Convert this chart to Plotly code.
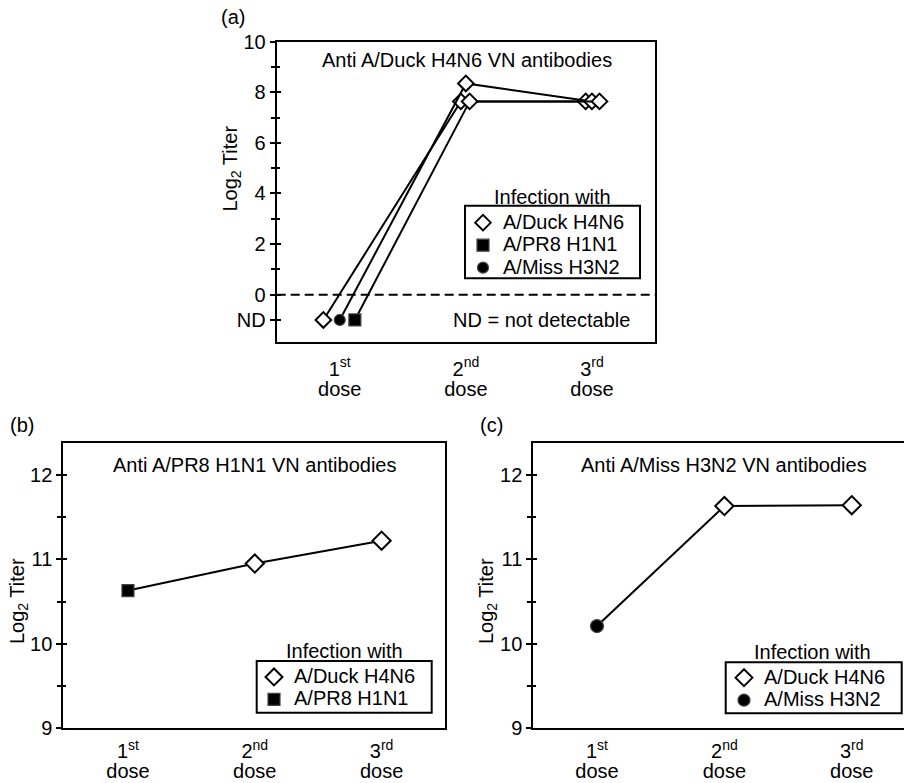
import plotly.graph_objects as go

# ---------------- data ----------------
doses = [1, 2, 3]
dose_ord = ["1<sup>st</sup>", "2<sup>nd</sup>", "3<sup>rd</sup>"]
dose_word = ["dose", "dose", "dose"]

# Panel (a): anti A/Duck H4N6 VN antibodies (ND plotted at -1)
a_duck = [-1, 7.64, 7.64]
a_miss = [-1, 8.35, 7.64]
a_pr8 = [-1, 7.64, 7.64]
a_tickvals = [-1, 0, 2, 4, 6, 8, 10]
a_ticktext = ["ND", "0", "2", "4", "6", "8", "10"]
a_minor = [1, 3, 5, 7, 9]

# Panel (b): anti A/PR8 H1N1 VN antibodies
b_values = [10.63, 10.95, 11.22]
# Panel (c): anti A/Miss H3N2 VN antibodies
c_values = [10.21, 11.63, 11.64]
bc_tickvals = [9, 10, 11, 12]
bc_minor = [9.5, 10.5, 11.5]

# horizontal jitter used in panel (a) so overlapping points stay visible
jit_duck = [-0.13, -0.04, -0.05]
jit_miss = [0.0, 0.0, 0.0]
jit_pr8 = [0.12, 0.03, 0.06]

# ---------------- style ----------------
W, H = 904, 783
FONT = "Liberation Sans, Arial, sans-serif"
FS = 20
DARK = "#000000"
EDGE = "#444444"


def px(x):
    return x / W


def py(y):
    return 1 - y / H


def sty(name):
    return '<span style="font-size:20px">' + name + "</span>"


symbols = {"duck": "diamond", "pr8": "square", "miss": "circle"}
fills = {"duck": "white", "pr8": DARK, "miss": DARK}
edges = {"duck": "black", "pr8": EDGE, "miss": EDGE}
ewidth = {"duck": 2, "pr8": 1.2, "miss": 1.2}
names = {"duck": "A/Duck H4N6", "pr8": "A/PR8 H1N1", "miss": "A/Miss H3N2"}

fig = go.Figure()


def series(first, yvals, jit, xa, ya, dsize, fsize):
    xs = [d + j for d, j in zip(doses, jit)]
    fig.add_trace(go.Scatter(
        x=xs, y=yvals, mode="lines+markers", xaxis=xa, yaxis=ya, showlegend=False,
        line=dict(color="black", width=2),
        marker=dict(symbol=[symbols[first], "diamond", "diamond"],
                    size=[fsize if first != "duck" else dsize, dsize, dsize],
                    color=[fills[first], "white", "white"], opacity=1,
                    line=dict(color=[edges[first], "black", "black"],
                              width=[ewidth[first], 2, 2])),
        hoverinfo="x+y"))


def legend_entry(key, xa, ya, leg, size):
    fig.add_trace(go.Scatter(
        x=[None], y=[None], mode="markers", xaxis=xa, yaxis=ya, legend=leg,
        name=sty(names[key]), showlegend=True,
        marker=dict(symbol=symbols[key], size=size, color=fills[key],
                    line=dict(color=edges[key], width=ewidth[key]))))


# panel (a)
series("duck", a_duck, jit_duck, "x", "y", 12, 12)
series("miss", a_miss, jit_miss, "x", "y", 12, 11)
series("pr8", a_pr8, jit_pr8, "x", "y", 12, 12)
legend_entry("duck", "x", "y", "legend", 12)
legend_entry("pr8", "x", "y", "legend", 12)
legend_entry("miss", "x", "y", "legend", 11)

# panel (b)
series("pr8", b_values, [0, 0, 0], "x2", "y2", 14, 12)
legend_entry("duck", "x2", "y2", "legend2", 13)
legend_entry("pr8", "x2", "y2", "legend2", 12)

# panel (c)
series("miss", c_values, [0, 0, 0], "x3", "y3", 14, 13)
legend_entry("duck", "x3", "y3", "legend3", 13)
legend_entry("miss", "x3", "y3", "legend3", 12)

# empty traces so the overlay axes (inner ticks, "dose" line) exist
for xa, ya in [("x", "y4"), ("x2", "y5"), ("x3", "y6"), ("x4", "y"), ("x5", "y2"), ("x6", "y3")]:
    fig.add_trace(go.Scatter(x=[None], y=[None], xaxis=xa, yaxis=ya, showlegend=False,
                             hoverinfo="skip"))

# ---------------- axes ----------------
tfont = dict(size=FS, family=FONT, color="black")
xcommon = dict(tickvals=doses, ticktext=dose_ord, ticks="", showline=True, linecolor="black",
               linewidth=2, mirror=True, showgrid=False, zeroline=False, automargin=False,
               tickfont=tfont, fixedrange=True)
xword = dict(tickvals=doses, ticktext=dose_word, ticks="", showline=False, showgrid=False,
             zeroline=False, automargin=False, tickfont=tfont, fixedrange=True, side="bottom")
ycommon = dict(ticks="outside", ticklen=5, tickwidth=2, tickcolor="black", showline=True,
               linecolor="black", linewidth=2, showgrid=False, zeroline=False, automargin=False,
               tickfont=tfont, fixedrange=True)
yinner = dict(ticks="inside", ticklen=4, tickwidth=2, tickcolor="black", showline=False,
              showgrid=False, zeroline=False, automargin=False, showticklabels=False,
              fixedrange=True, side="left")

a_dom = [py(341.7), py(41.7)]
bc_dom = [py(728.3), py(442.7)]
a_rng = [-1.86, 10]
bc_rng = [9, 12.38]
a_xdom = [px(276.7), px(655)]
b_xdom = [px(63.3), px(445)]
c_xdom = [px(533.3), 1.0]
a_xr = [0.5, 3.5]
b_xr = [0.49, 3.5]
c_xr = [0.5, 3.41]


def minor(vals, side, ln):
    return dict(tickvals=vals, ticks=side, ticklen=ln, tickwidth=2, tickcolor="black")


fig.update_layout(
    xaxis=dict(**xcommon, domain=a_xdom, range=a_xr, anchor="y", ticklabelstandoff=8),
    xaxis4=dict(**xword, domain=a_xdom, range=a_xr, anchor="y", overlaying="x", ticklabelstandoff=33),
    yaxis=dict(**ycommon, domain=a_dom, range=a_rng, anchor="x", mirror=True,
               tickvals=a_tickvals, ticktext=a_ticktext, minor=minor(a_minor, "outside", 4)),
    yaxis4=dict(**yinner, domain=a_dom, range=a_rng, anchor="x", overlaying="y",
                tickvals=a_tickvals, minor=minor(a_minor, "inside", 3)),
    xaxis2=dict(**xcommon, domain=b_xdom, range=b_xr, anchor="y2", ticklabelstandoff=4),
    xaxis5=dict(**xword, domain=b_xdom, range=b_xr, anchor="y2", overlaying="x2", ticklabelstandoff=29),
    yaxis2=dict(**ycommon, domain=bc_dom, range=bc_rng, anchor="x2", mirror=True,
                tickvals=bc_tickvals, minor=minor(bc_minor, "outside", 4)),
    yaxis5=dict(**yinner, domain=bc_dom, range=bc_rng, anchor="x2", overlaying="y2",
                tickvals=bc_tickvals, minor=minor(bc_minor, "inside", 3)),
    xaxis3=dict(**xcommon, domain=c_xdom, range=c_xr, anchor="y3", ticklabelstandoff=4),
    xaxis6=dict(**xword, domain=c_xdom, range=c_xr, anchor="y3", overlaying="x3", ticklabelstandoff=29),
    yaxis3=dict(**ycommon, domain=bc_dom, range=bc_rng, anchor="x3", mirror=False,
                tickvals=bc_tickvals, minor=minor(bc_minor, "outside", 4)),
    yaxis6=dict(**yinner, domain=bc_dom, range=bc_rng, anchor="x3", overlaying="y3",
                tickvals=bc_tickvals, minor=minor(bc_minor, "inside", 3)),
)

legend_common = dict(bgcolor="rgba(0,0,0,0)", borderwidth=0,
                     font=dict(size=15, family=FONT, color="black"),
                     xanchor="left", yanchor="top", itemwidth=30, tracegroupgap=0,
                     traceorder="normal")
fig.update_layout(
    legend=dict(**legend_common, x=px(463), y=py(206.4)),
    legend2=dict(**legend_common, x=px(254), y=py(660.7)),
    legend3=dict(**legend_common, x=px(724), y=py(661.4)),
)

# legend frames
for x0, x1, y0, y1 in [(465, 640, 205.7, 278.3), (256.7, 431.7, 661, 712.7), (725.7, 901.7, 662.3, 713.3)]:
    fig.add_shape(type="rect", xref="paper", yref="paper", x0=px(x0), x1=px(x1), y0=py(y1), y1=py(y0),
                  line=dict(color="black", width=2), fillcolor="white", layer="below")

# dashed zero line in panel (a)
fig.add_shape(type="line", xref="x domain", yref="y", x0=0, x1=1, y0=0, y1=0,
              line=dict(color="black", width=2, dash="9px,5px"), layer="below")

# ---------------- text ----------------
def note(text, x, y, xanchor="center", yanchor="middle", angle=0):
    fig.add_annotation(text=text, xref="paper", yref="paper", x=px(x), y=py(y),
                       xanchor=xanchor, yanchor=yanchor, textangle=angle, showarrow=False,
                       font=dict(size=FS, family=FONT, color="black"))


note("(a)", 232.5, 17)
note("(b)", 21.7, 425)
note("(c)", 491, 425)
note("Anti A/Duck H4N6 VN antibodies", 467, 60)
note("Anti A/PR8 H1N1 VN antibodies", 255, 465)
note("Anti A/Miss H3N2 VN antibodies", 724, 465)
note("Infection with", 552.5, 197)
note("Infection with", 344, 651)
note("Infection with", 812.5, 652)
note("ND = not detectable", 632, 320, xanchor="right")
note("Log<sub>2</sub> Titer", 231, 168.5, angle=-90)
note("Log<sub>2</sub> Titer", 18.5, 601.5, angle=-90)
note("Log<sub>2</sub> Titer", 487.5, 601.5, angle=-90)

fig.update_layout(width=W, height=H, margin=dict(l=0, r=0, t=0, b=0, autoexpand=False),
                  paper_bgcolor="white", plot_bgcolor="white",
                  font=dict(family=FONT, size=FS, color="black"))

fig.write_html("out.html", config={"displayModeBar": False},
               post_script="document.body.style.margin='0';document.body.style.overflow='hidden';")
